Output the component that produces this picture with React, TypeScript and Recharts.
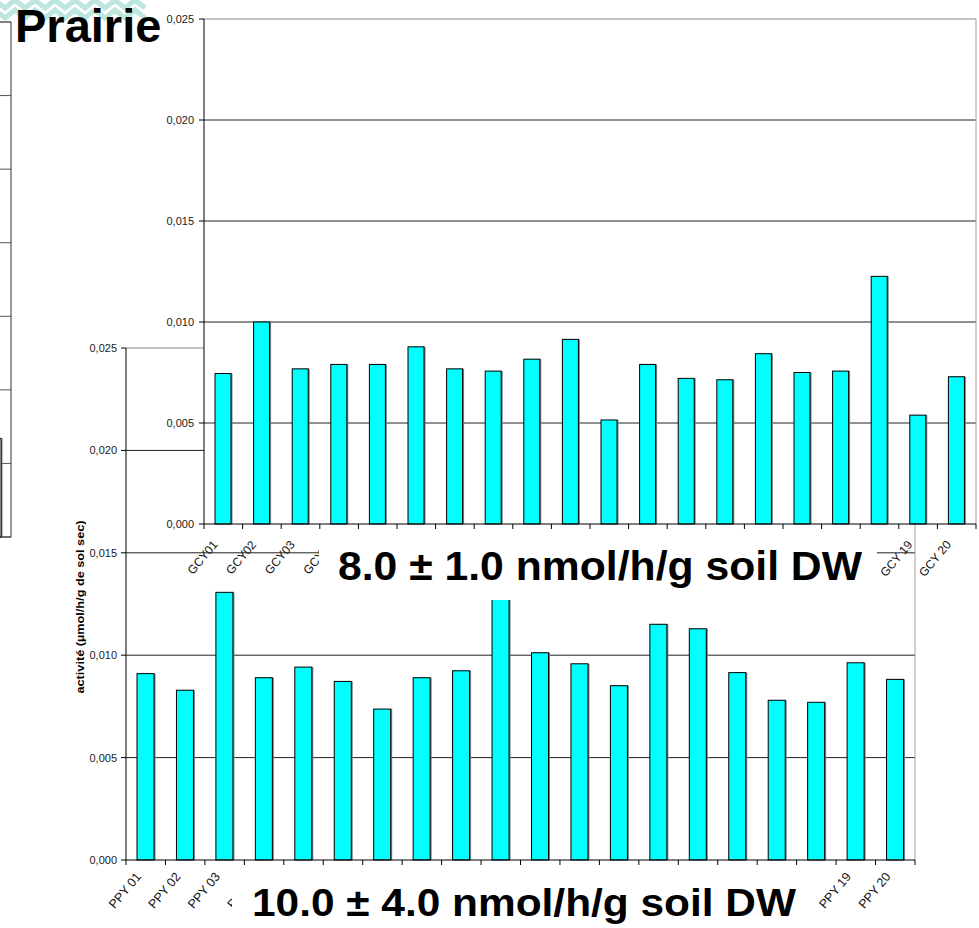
import { Bar, BarChart, CartesianGrid, ReferenceLine, XAxis, YAxis } from 'recharts'

const FONT = '"Liberation Sans", Arial, Helvetica, sans-serif'
const Y_AXIS_WIDTH = 60

// grassland soil samples, activity in µmol/h/g dry soil
const gcyLabels = [
  'GCY01', 'GCY02', 'GCY03', 'GCY04', 'GCY05', 'GCY06', 'GCY07', 'GCY08', 'GCY09', 'GCY 10',
  'GCY 11', 'GCY 12', 'GCY 13', 'GCY 14', 'GCY 15', 'GCY 16', 'GCY 17', 'GCY 18', 'GCY 19', 'GCY 20',
]
const gcyActivity = [
  0.00745, 0.01, 0.00768, 0.0079, 0.0079, 0.00877, 0.00768, 0.00757, 0.00816, 0.00914,
  0.00515, 0.0079, 0.00721, 0.00714, 0.00843, 0.0075, 0.00757, 0.01226, 0.00539, 0.00729,
]

const ppyLabels = [
  'PPY 01', 'PPY 02', 'PPY 03', 'PPY 04', 'PPY 05', 'PPY 06', 'PPY 07', 'PPY 08', 'PPY 09', 'PPY 10',
  'PPY 11', 'PPY 12', 'PPY 13', 'PPY 14', 'PPY 15', 'PPY 16', 'PPY 17', 'PPY 18', 'PPY 19', 'PPY 20',
]
const ppyActivity = [
  0.0091, 0.00829, 0.01307, 0.0089, 0.00942, 0.00872, 0.00737, 0.0089, 0.00924, 0.0135,
  0.01012, 0.00958, 0.00851, 0.01151, 0.01129, 0.00915, 0.0078, 0.0077, 0.00963, 0.00882,
]

// the neighbouring panel, only its last sample shows
const stripLabels = ['PCY 20']
const stripActivity = [0.0067]

const activityTicks = [0, 0.005, 0.01, 0.015, 0.02, 0.025]
const stripTicks = [0, 0.005, 0.01, 0.015, 0.02, 0.025, 0.03, 0.035]

const gcyData = gcyLabels.map((name, i) => ({ name, value: gcyActivity[i] }))
const ppyData = ppyLabels.map((name, i) => ({ name, value: ppyActivity[i] }))
const stripData = stripLabels.map((name, i) => ({ name, value: stripActivity[i] }))

const frDecimal = (v: number) => v.toFixed(3).replace('.', ',')

// right-hand frame line of the plot area
const plotRightEdge = (p: any) => (p && p.offset ? [p.offset.left + p.offset.width] : [])

function ShadedBar(props: any) {
  const { x, y, width, height, fill } = props
  if (!height || height <= 0) return null
  return (
    <g>
      <rect x={x + 1.5} y={y} width={width} height={height} fill="#7d7d7d" />
      <rect x={x} y={y} width={width} height={height} fill={fill} stroke="#000" strokeWidth={1} />
    </g>
  )
}

// slanted category label plus the tick marks between categories
function SlantTick(props: any) {
  const { x, y, payload, offX, offY, size, step, count } = props
  const half = step / 2
  const tx = x + offX
  const ty = y + offY
  return (
    <g>
      <line x1={x - half} x2={x - half} y1={y} y2={y + 5} stroke="#000" />
      {payload.index === count - 1 && (
        <line x1={x + half} x2={x + half} y1={y} y2={y + 5} stroke="#000" />
      )}
      <text
        x={tx}
        y={ty}
        transform={`rotate(-50 ${tx} ${ty})`}
        textAnchor="end"
        fontSize={size}
        fontFamily={FONT}
        fill="#111"
      >
        {payload.value}
      </text>
    </g>
  )
}

interface PanelProps {
  data: { name: string; value: number }[]
  width: number
  height: number
  margin: { top: number; right: number; bottom: number; left: number }
  barSize: number
  tickMargin: number
  labelOffX: number
  labelOffY: number
  labelSize: number
  whitePlot?: boolean
}

function ActivityPanel({
  data,
  width,
  height,
  margin,
  barSize,
  tickMargin,
  labelOffX,
  labelOffY,
  labelSize,
  whitePlot = false,
}: PanelProps) {
  const step = (width - margin.left - margin.right - Y_AXIS_WIDTH) / data.length
  return (
    <BarChart width={width} height={height} data={data} margin={margin}>
      <CartesianGrid
        vertical={false}
        stroke="#222"
        fill={whitePlot ? '#fff' : 'none'}
        fillOpacity={1}
        horizontalValues={[0.005, 0.01, 0.015, 0.02]}
      />
      <CartesianGrid horizontal={false} stroke="#a0a0a0" verticalCoordinatesGenerator={plotRightEdge} />
      <XAxis
        dataKey="name"
        height={1}
        axisLine={{ stroke: '#000' }}
        tickLine={false}
        tickSize={0}
        tickMargin={0}
        interval={0}
        tick={(p: any) => (
          <SlantTick
            {...p}
            offX={labelOffX}
            offY={labelOffY}
            size={labelSize}
            step={step}
            count={data.length}
          />
        )}
      />
      <YAxis
        width={Y_AXIS_WIDTH}
        domain={[0, 0.025]}
        ticks={activityTicks}
        interval={0}
        tickFormatter={frDecimal}
        tickSize={5}
        tickMargin={tickMargin}
        axisLine={{ stroke: '#000' }}
        tickLine={{ stroke: '#000' }}
        tick={{ fontSize: 11, fill: '#1a1a1a', fontFamily: FONT }}
      />
      <ReferenceLine y={0.025} stroke="#8a8a8a" />
      <Bar
        dataKey="value"
        fill="#00ffff"
        barSize={barSize}
        shape={<ShadedBar />}
        isAnimationActive={false}
      />
    </BarChart>
  )
}

function Chevrons() {
  const rows = [0, 10]
  return (
    <g fill="none" stroke="#bde7dd" strokeWidth={5}>
      {rows.map((r) => {
        const pts: string[] = []
        for (let i = 0; i <= 15; i++) pts.push(`${i * 10 - 5},${r + (i % 2 === 0 ? 0 : 8)}`)
        return <polyline key={r} points={pts.join(' ')} />
      })}
    </g>
  )
}

export default function App() {
  return (
    <div
      style={{
        position: 'absolute',
        left: 0,
        top: 0,
        width: 979,
        height: 928,
        overflow: 'hidden',
        background: '#fff',
        fontFamily: FONT,
      }}
    >
      {/* neighbouring panel peeking in at the left edge */}
      <div style={{ position: 'absolute', left: -26, top: 0 }}>
        <BarChart width={41} height={600} data={stripData} margin={{ top: 22, right: 4, bottom: 63, left: 0 }}>
          <CartesianGrid vertical={false} stroke="#555" />
          <CartesianGrid horizontal={false} stroke="#333" verticalCoordinatesGenerator={plotRightEdge} />
          <XAxis dataKey="name" hide />
          <YAxis hide domain={[0, 0.035]} ticks={stripTicks} interval={0} />
          <ReferenceLine y={0.035} stroke="#555" />
          <ReferenceLine y={0} stroke="#333" />
          <Bar dataKey="value" fill="#ffffff" barSize={17} shape={<ShadedBar />} isAnimationActive={false} />
        </BarChart>
      </div>

      {/* PPY panel (behind) */}
      <div style={{ position: 'absolute', left: 0, top: 0 }}>
        <ActivityPanel
          data={ppyData}
          width={979}
          height={928}
          margin={{ top: 348, right: 64, bottom: 67, left: 66 }}
          barSize={17}
          tickMargin={4}
          labelOffX={-4}
          labelOffY={17}
          labelSize={12.5}
        />
      </div>

      {/* GCY panel (front) */}
      <div style={{ position: 'absolute', left: 0, top: 0 }}>
        <ActivityPanel
          data={gcyData}
          width={979}
          height={600}
          margin={{ top: 19, right: 3, bottom: 75, left: 144 }}
          barSize={16}
          tickMargin={5}
          labelOffX={-5}
          labelOffY={21}
          labelSize={12}
          whitePlot
        />
      </div>

      <svg
        width={979}
        height={928}
        style={{ position: 'absolute', left: 0, top: 0, pointerEvents: 'none' }}
      >
        <Chevrons />
        <text x={15} y={42} fontSize={47} fontWeight="bold" fontFamily={FONT} fill="#000">
          Prairie
        </text>

        <text
          x={0}
          y={0}
          transform="translate(84 607) rotate(-90)"
          textAnchor="middle"
          fontSize={10.5}
          fontWeight="bold"
          fontFamily={FONT}
          fill="#000"
          textLength={173}
          lengthAdjust="spacingAndGlyphs"
        >
          activité (µmol/h/g de sol sec)
        </text>

        <rect x={319} y={530} width={558} height={70} fill="#fff" />
        <text
          x={338}
          y={580}
          fontSize={40}
          fontWeight="bold"
          fontFamily={FONT}
          fill="#000"
          textLength={524}
          lengthAdjust="spacingAndGlyphs"
        >
          8.0 ± 1.0 nmol/h/g soil DW
        </text>

        <rect x={232} y={868} width={582} height={60} fill="#fff" />
        <text
          x={252}
          y={916}
          fontSize={38}
          fontWeight="bold"
          fontFamily={FONT}
          fill="#000"
          textLength={544}
          lengthAdjust="spacingAndGlyphs"
        >
          10.0 ± 4.0 nmol/h/g soil DW
        </text>
      </svg>
    </div>
  )
}
